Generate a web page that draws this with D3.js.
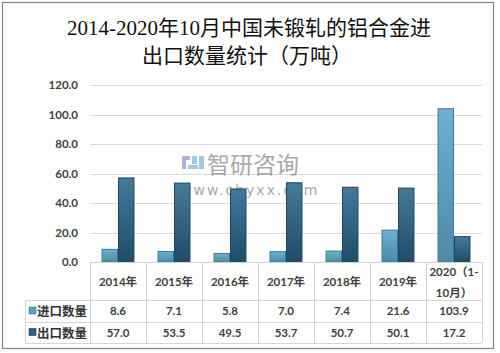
<!DOCTYPE html>
<html>
<head>
<meta charset="utf-8">
<script src="https://cdn.jsdelivr.net/npm/d3@7"></script>
<style>
  body { margin: 0; background: #fff; }
  svg { display: block; }
</style>
</head>
<body>
<div id="chart"></div>
<script>
const years = ["2014年", "2015年", "2016年", "2017年", "2018年", "2019年", "2020（1-10月）"];
const importVals = [8.6, 7.1, 5.8, 7.0, 7.4, 21.6, 103.9];
const exportVals = [57.0, 53.5, 49.5, 53.7, 50.7, 50.1, 17.2];
const seriesNames = ["进口数量", "出口数量"];
const yTicks = [0, 20, 40, 60, 80, 100, 120];

const width = 500, height = 353;
const plot = {left: 90, right: 482, top: 85, bottom: 262};
const rowY = [300, 322, 343];

const svg = d3.select("#chart").append("svg")
  .attr("width", width).attr("height", height);

// gradients for the two series
const defs = svg.append("defs");
function addGrad(id, stops) {
  const gr = defs.append("linearGradient").attr("id", id)
    .attr("x1", 0).attr("y1", 0).attr("x2", 0).attr("y2", 1);
  stops.forEach(s => gr.append("stop").attr("offset", s[0]).attr("stop-color", s[1]));
}
addGrad("gImp", [[0, "#6cb0d2"], [1, "#4d8aa6"]]);
addGrad("gExp", [[0, "#457a9a"], [1, "#1d4d68"]]);
const fills = ["url(#gImp)", "url(#gExp)"];
const strokes = ["#3f7896", "#1d4660"];
const keyColors = ["#5a9ec2", "#2f5f7c"];

// outer frame
svg.append("rect")
  .attr("x", 2.5).attr("y", 2.5).attr("width", 491).attr("height", 346)
  .attr("fill", "none").attr("stroke", "#858585").attr("stroke-width", 1.2);

// title
const title = svg.append("text")
  .attr("text-anchor", "middle")
  .attr("font-family", "'Liberation Serif', 'Noto Sans CJK SC', serif")
  .attr("font-size", "21px")
  .attr("fill", "#111");
title.append("tspan").attr("x", 249).attr("y", 35).text("2014-2020年10月中国未锻轧的铝合金进");
title.append("tspan").attr("x", 247).attr("y", 63).text("出口数量统计（万吨）");

const x = d3.scaleBand().domain(years).range([plot.left, plot.right]).padding(0);
const xs = d3.scaleBand().domain(seriesNames).range([0, x.bandwidth()])
  .paddingInner(0).paddingOuter(0.7);
const y = d3.scaleLinear().domain([0, 120]).range([plot.bottom, plot.top]);

// gridlines
svg.append("g")
  .selectAll("line")
  .data(yTicks.slice(1))
  .join("line")
    .attr("x1", plot.left).attr("x2", plot.right)
    .attr("y1", d => Math.round(y(d)) + 0.5).attr("y2", d => Math.round(y(d)) + 0.5)
    .attr("stroke", "#d9d9d9");

// y axis labels
const yAxis = svg.append("g")
  .attr("transform", `translate(${plot.left}, 0)`)
  .call(d3.axisLeft(y).tickValues(yTicks).tickFormat(d3.format(".1f")).tickSize(0).tickPadding(12));
yAxis.select(".domain").remove();
yAxis.selectAll("text")
  .attr("font-family", "Lato, 'Liberation Sans', sans-serif")
  .attr("font-size", "11.5px")
  .attr("font-weight", "bold")
  .attr("fill", "#404040");

// watermark
const wm = svg.append("g").attr("opacity", 0.75);
wm.append("rect").attr("x", 182).attr("y", 156).attr("width", 8).attr("height", 4).attr("fill", "#8c9cc8");
wm.append("rect").attr("x", 182).attr("y", 160).attr("width", 4).attr("height", 9).attr("fill", "#8c9cc8");
wm.append("rect").attr("x", 192).attr("y", 156).attr("width", 5).attr("height", 8).attr("fill", "#7fb6dc");
wm.append("rect").attr("x", 199).attr("y", 156).attr("width", 5).attr("height", 13).attr("fill", "#7fb6dc");
wm.append("rect").attr("x", 188).attr("y", 165).attr("width", 10).attr("height", 4).attr("fill", "#7fb6dc");
wm.append("text").attr("x", 207).attr("y", 173)
  .attr("font-family", "'Noto Sans CJK SC', sans-serif").attr("font-size", "23px")
  .attr("fill", "#8a8a8a").text("智研咨询");
wm.append("text").attr("x", 180).attr("y", 195)
  .attr("font-family", "'DejaVu Sans', sans-serif").attr("font-size", "14px")
  .attr("letter-spacing", "2px")
  .attr("fill", "#8a8a8a").text("www.chyxx.com");

// bars
const seriesData = [importVals, exportVals];
seriesNames.forEach((name, si) => {
  svg.append("g")
    .selectAll("rect")
    .data(years.map((yr, i) => ({yr, v: seriesData[si][i]})))
    .join("rect")
      .attr("x", d => x(d.yr) + xs(name) + 0.5)
      .attr("width", xs.bandwidth() - 1)
      .attr("y", d => y(d.v))
      .attr("height", d => plot.bottom - y(d.v))
      .attr("fill", fills[si])
      .attr("stroke", strokes[si])
      .attr("stroke-width", 1);
});

// data table
const tbl = svg.append("g").attr("stroke", "#d4d4d4").attr("stroke-width", 1);
tbl.append("line").attr("x1", plot.left).attr("x2", plot.right)
  .attr("y1", plot.bottom + 0.5).attr("y2", plot.bottom + 0.5);
rowY.forEach(r => tbl.append("line").attr("x1", 25).attr("x2", plot.right)
  .attr("y1", r + 0.5).attr("y2", r + 0.5));
tbl.append("line").attr("x1", 25.5).attr("x2", 25.5).attr("y1", rowY[0]).attr("y2", rowY[2]);
years.concat([null]).forEach((yr, i) => {
  const xx = yr ? x(yr) : plot.right;
  tbl.append("line").attr("x1", Math.round(xx) + 0.5).attr("x2", Math.round(xx) + 0.5)
    .attr("y1", plot.bottom).attr("y2", rowY[2]);
});

const tblFont = "Lato, 'Noto Sans CJK SC', sans-serif";
// header row
years.forEach(yr => {
  const cx = x(yr) + x.bandwidth() / 2;
  const t = svg.append("text").attr("text-anchor", "middle")
    .attr("font-family", tblFont).attr("font-size", "11.5px").attr("font-weight", "bold")
    .attr("fill", "#404040");
  if (yr.indexOf("（") >= 0) {
    const parts = yr.split("（");
    t.append("tspan").attr("x", cx).attr("y", 276).text(parts[0] + "（1-");
    t.append("tspan").attr("x", cx).attr("y", 297).text(parts[1].replace("1-", ""));
  } else {
    t.attr("x", cx).attr("y", 286).text(yr);
  }
});

// legend keys and values
seriesNames.forEach((name, si) => {
  const cy = (rowY[si] + rowY[si + 1]) / 2;
  svg.append("rect").attr("x", 29).attr("y", cy - 4).attr("width", 7).attr("height", 7)
    .attr("fill", keyColors[si]).attr("stroke", strokes[si]).attr("stroke-width", 0.6);
  svg.append("text").attr("x", 37).attr("y", cy + 5)
    .attr("font-family", "'Noto Sans CJK SC', sans-serif").attr("font-size", "12.5px")
    .attr("font-weight", "bold").attr("fill", "#333").text(name);
  svg.append("g")
    .selectAll("text")
    .data(years.map((yr, i) => ({yr, v: seriesData[si][i]})))
    .join("text")
      .attr("x", d => x(d.yr) + x.bandwidth() / 2)
      .attr("y", cy + 4)
      .attr("text-anchor", "middle")
      .attr("font-family", tblFont).attr("font-size", "11.5px").attr("font-weight", "bold")
      .attr("fill", "#404040")
      .text(d => d3.format(".1f")(d.v));
});
</script>
</body>
</html>
